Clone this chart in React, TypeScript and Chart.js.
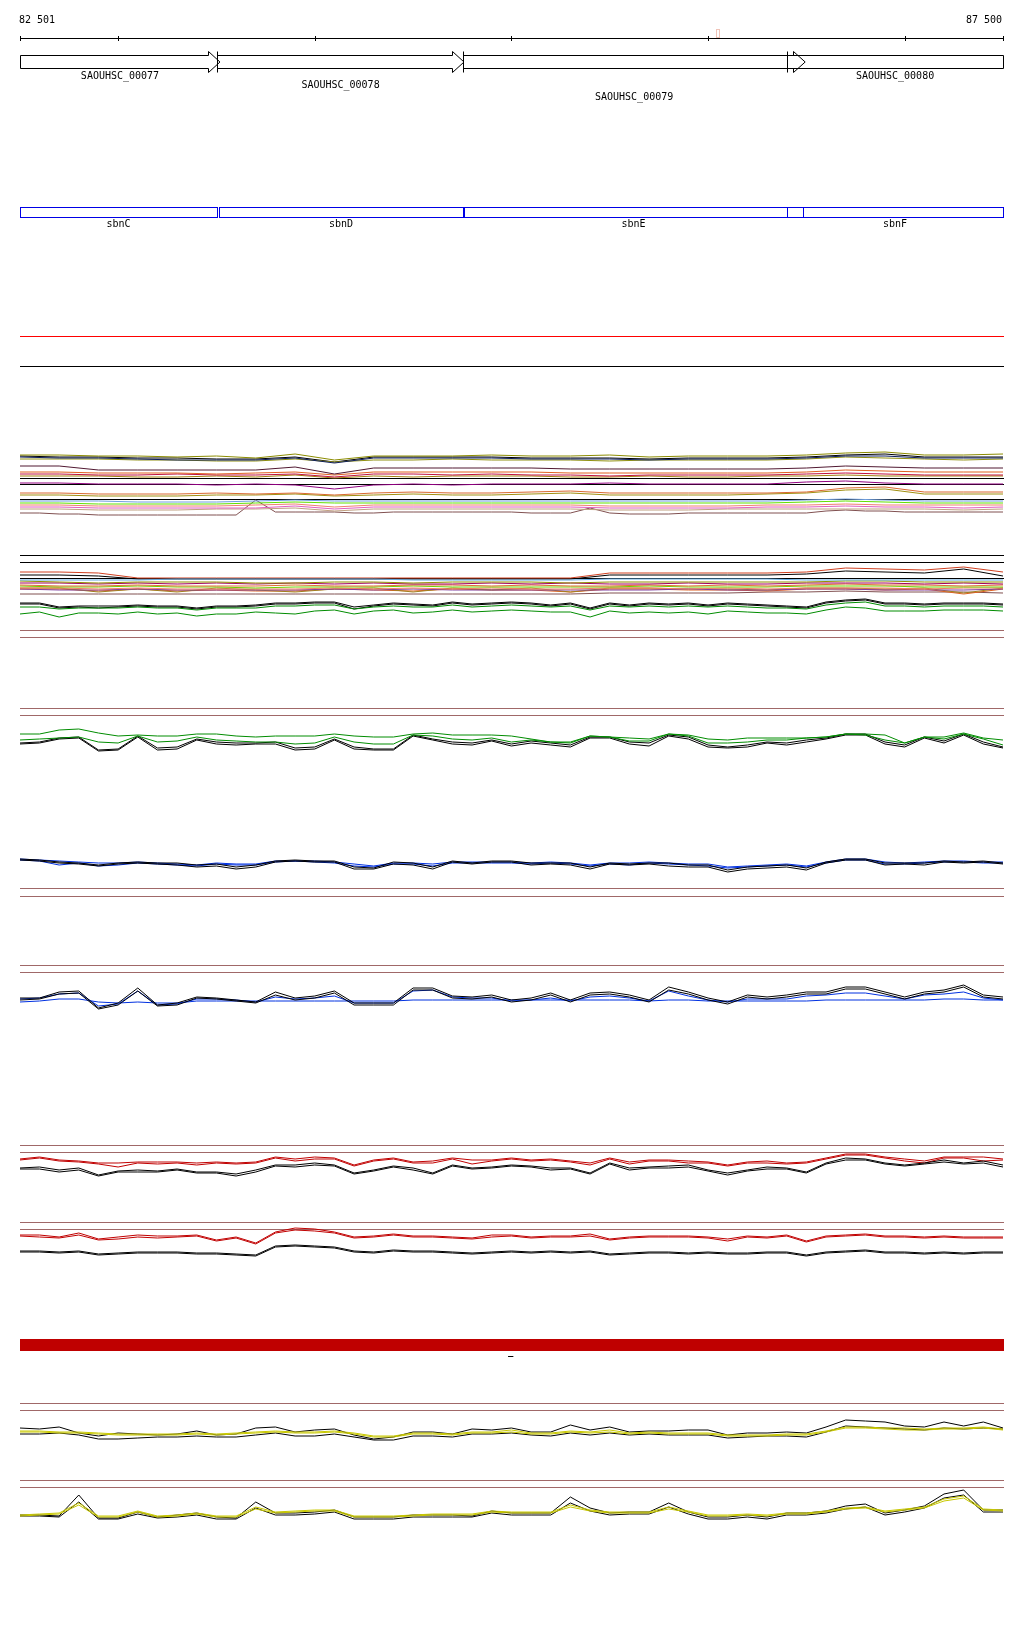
import React, { useEffect, useRef } from "react";
import { Chart, registerables } from "chart.js";

Chart.register(...registerables);

// ---------- genome window ----------
const VIEW_START = 82501;
const VIEW_END = 87500;
const RULER_TICKS = [83000, 84000, 85000, 86000, 87000];
const RULER_LEFT_LABEL = "82 501";
const RULER_RIGHT_LABEL = "87 500";
const RULER_MARKER = 86040;

// ---------- genes (CDS arrows) ----------
const GENE_NAMES = ["SAOUHSC_00077", "SAOUHSC_00078", "SAOUHSC_00079", "SAOUHSC_00080"];
const GENE_STARTS = [82300, 83503, 84754, 86402];
const GENE_ENDS = [83518, 84759, 86494, 88000];
const GENE_LABEL_ROWS = [0, 1, 2, 0];

// ---------- features (blue boxes) ----------
const FEATURE_NAMES = ["sbnC", "sbnD", "sbnE", "sbnF"];
const FEATURE_STARTS = [82300, 83513, 84759, 86402];
const FEATURE_ENDS = [83503, 84754, 86483, 88000];

// ---------- sample positions (bp) ----------
const X_FINE = [
  82500, 82600, 82700, 82800, 82900, 83000, 83100, 83200, 83300, 83400,
  83500, 83600, 83700, 83800, 83900, 84000, 84100, 84200, 84300, 84400,
  84500, 84600, 84700, 84800, 84900, 85000, 85100, 85200, 85300, 85400,
  85500, 85600, 85700, 85800, 85900, 86000, 86100, 86200, 86300, 86400,
  86500, 86600, 86700, 86800, 86900, 87000, 87100, 87200, 87300, 87400,
  87500,
];
const X_COARSE = [
  82500, 82700, 82900, 83100, 83300, 83500, 83700, 83900, 84100, 84300,
  84500, 84700, 84900, 85100, 85300, 85500, 85700, 85900, 86100, 86300,
  86500, 86700, 86900, 87100, 87300, 87500,
];

// ---------- track A (multi-colour bundle) ----------
const A_OLIVE_1 = [65,65,64,64,63,64,62,66,60,64,64,64,65,64,64,65,63,64,64,64,65,67,68,65,65,66];
const A_BLACK = [64,63,63,62,62,61,61,63,58,63,63,63,63,62,62,62,61,62,62,62,63,65,66,63,63,63];
const A_NAVY = [63,62,62,61,60,60,60,62,57,62,62,62,62,61,61,61,60,61,61,61,62,64,64,62,62,62];
const A_OLIVE_2 = [61,61,61,60,60,59,59,61,58,60,60,61,60,60,60,59,60,60,60,60,61,63,62,61,60,61];
const A_MAROON = [54,54,50,50,50,50,50,53,46,52,52,52,52,52,51,51,51,51,51,51,52,54,53,52,52,52];
const A_ORANGE_1 = [48,48,47,47,47,46,47,48,45,48,48,48,48,48,47,47,47,47,47,47,48,50,49,48,48,48];
const A_RED = [46,46,45,45,46,45,45,46,43,46,46,45,46,45,45,44,45,45,45,45,46,47,46,45,45,45];
const A_OLIVE_3 = [44,44,44,43,43,44,43,45,42,44,43,44,44,44,43,43,44,43,43,44,44,45,44,44,44,44];
const A_PURPLE = [37,37,36,36,36,35,36,35,31,35,36,35,36,36,36,37,36,36,36,36,38,39,37,36,36,36];
const A_ORANGE_2 = [27,27,26,26,26,27,26,27,25,27,28,27,27,28,29,27,27,27,27,27,28,32,33,28,28,28];
const A_OLIVE_4 = [25,25,24,24,24,25,25,26,24,25,26,25,25,26,27,25,25,25,25,26,27,30,31,26,26,26];
const A_LIGHTBLUE = [19,19,19,18,18,18,19,20,19,19,19,19,19,19,19,19,19,19,19,19,20,21,20,19,19,19];
const A_LIME = [17,17,16,16,16,16,17,18,17,17,17,17,17,17,17,17,17,17,17,17,18,19,18,17,17,17];
const A_SALMON = [15,15,14,14,14,14,15,16,13,15,15,15,15,15,15,14,14,14,14,15,15,16,15,15,15,15];
const A_PINK = [13,13,12,12,12,12,12,14,11,13,13,13,13,13,13,12,12,12,12,13,13,14,13,13,12,13];
const A_TAN = [11,11,10,10,10,11,11,12,9,11,11,11,11,11,11,10,10,10,11,11,11,11,11,11,10,11];
const A_BROWN = [7,7,6,6,5,5,5,5,5,5,5,5,20,8,8,8,8,7,7,8,8,8,8,8,8,8,7,7,7,12,7,6,6,6,7,7,7,7,7,7,7,9,10,9,9,8,8,8,8,8,8];

// ---------- track B (bundle + black/green) ----------
const B_TOP_RED = [28,28,27,22,22,22,22,22,22,22,22,22,22,22,22,27,27,27,27,27,28,32,31,30,33,28];
const B_TOP_BLACK = [25,25,24,21,21,21,21,21,21,21,21,21,21,21,21,25,25,25,25,25,26,29,28,27,31,24];
const B_BLUE = [20,20,20,20,21,21,21,21,21,21,20,20,20,20,20,21,21,21,21,21,20,20,20,20,20,20];
const B_OLIVE = [19,18,17,18,18,18,17,17,18,18,17,18,18,18,17,18,18,18,18,18,18,19,19,18,18,18];
const B_MAGENTA = [17,17,16,17,16,17,16,17,16,17,16,16,17,16,17,16,16,17,16,16,17,17,17,16,17,16];
const B_ORANGE = [15,14,14,15,14,14,14,15,14,14,15,15,14,15,14,14,15,14,15,14,15,16,15,15,14,15];
const B_LIME = [14,13,13,14,13,13,12,13,13,13,14,13,13,13,13,13,14,13,13,13,14,14,14,13,13,13];
const B_SALMON = [12,12,11,12,11,11,11,11,12,11,12,11,12,11,11,12,12,11,12,11,12,12,12,11,12,12];
const B_PURPLE = [11,10,10,11,10,10,10,10,11,10,11,10,10,10,10,10,10,11,10,10,11,11,10,10,10,11];
const B_OLIVE_DIP = [12,12,8,11,8,12,10,8,11,12,8,12,10,12,8,12,12,11,11,10,12,12,11,12,7,12];
const B_ORANGE_DIP = [11,11,9,11,9,10,9,9,11,10,9,11,10,10,8,11,11,10,10,9,11,11,10,11,6,11];
const B_BROWN = [6,6,6,6,6,6,6,6,6,6,6,6,6,6,6,7,7,7,7,8,8,9,8,8,8,7];
const B_BLACK_1 = [17,17,13,14,14,14,15,14,14,12,14,14,15,17,17,18,18,13,15,17,16,15,18,16,17,18,17,15,17,12,17,15,17,16,17,15,17,16,15,14,13,18,20,21,17,17,16,17,17,17,16];
const B_BLACK_2 = [16,16,12,13,12,13,14,13,13,11,13,13,14,16,16,17,17,11,14,16,15,14,17,15,16,17,16,14,16,11,16,14,16,15,16,14,16,15,14,13,12,17,19,20,16,16,15,16,16,16,15];
const B_GREEN_1 = [13,13,11,12,12,12,13,12,12,10,12,12,12,14,14,15,15,11,13,14,13,13,15,13,14,15,14,13,14,10,14,13,14,13,14,13,14,13,12,12,11,15,17,18,14,14,13,14,14,14,13];
const B_GREEN_2 = [6,8,3,7,7,6,8,6,7,4,6,6,8,7,6,9,10,6,9,10,7,8,10,8,9,10,9,8,8,3,9,7,8,7,8,6,9,8,7,7,6,10,13,12,9,9,9,10,10,10,9];

// ---------- track C (green / black) ----------
const C_BLACK_1 = [7,8,12,13,0,1,14,2,3,11,8,7,7,8,2,3,11,3,1,1,15,11,8,7,10,6,9,7,5,13,13,8,7,15,13,5,3,5,8,7,10,12,16,16,8,5,13,9,16,8,3];
const C_BLACK_2 = [6,7,11,12,-1,0,13,0,1,10,6,5,6,6,0,1,10,1,0,0,14,10,6,5,9,4,7,5,3,12,12,6,4,14,11,3,2,3,7,5,8,11,15,15,6,3,12,7,15,6,2];
const C_GREEN_1 = [16,16,20,21,17,14,15,14,14,16,16,14,13,14,14,14,16,14,13,13,16,17,15,15,15,14,11,8,8,14,13,12,11,16,15,11,10,12,12,12,12,13,16,16,15,7,13,13,17,12,10];
const C_GREEN_2 = [10,11,12,13,8,7,14,8,9,13,10,9,8,8,6,7,13,8,6,6,15,14,11,10,12,8,10,8,7,14,13,9,9,16,14,7,7,8,10,10,12,13,16,15,10,7,13,11,16,11,5];

// ---------- track D (blue / black) ----------
const D_BLACK_1 = [16,15,13,12,10,12,13,12,12,10,11,8,10,14,15,14,14,8,7,13,12,8,14,12,14,14,12,12,12,8,12,11,12,12,10,10,5,8,9,10,7,13,16,16,12,12,12,14,13,14,12];
const D_BLACK_2 = [15,14,12,11,9,11,12,11,10,8,9,6,8,13,14,13,13,6,6,11,10,6,13,11,13,13,10,11,10,6,11,10,11,9,8,8,3,6,7,8,5,12,15,15,10,11,10,13,12,13,11];
const D_BLUE_1 = [16,15,14,13,12,12,13,12,11,10,12,11,11,14,14,14,13,11,9,12,12,11,13,13,13,13,12,13,12,10,12,12,13,12,11,11,8,9,10,11,9,13,16,16,13,12,13,14,14,13,13];
const D_BLUE_2 = [15,14,10,12,9,10,12,11,10,9,11,10,10,13,14,13,12,9,8,11,11,9,12,12,12,12,11,12,11,9,11,10,12,11,10,9,7,8,9,10,8,12,15,15,11,11,12,13,13,12,12];

// ---------- track E (blue / black) ----------
const E_BLACK_1 = [17,17,23,24,7,12,27,10,12,18,17,15,13,23,17,19,24,12,12,12,27,27,19,18,20,15,17,22,15,22,23,20,15,28,23,17,13,20,18,20,23,23,28,28,23,18,23,25,30,20,18];
const E_BLACK_2 = [15,16,21,22,6,10,24,9,10,17,16,14,12,20,15,17,22,10,10,10,25,25,17,16,18,13,15,20,13,20,21,18,13,25,21,15,11,18,16,18,21,21,26,26,21,16,21,23,28,18,16];
const E_BLUE_1 = [16,17,21,22,9,11,24,10,11,16,16,15,13,18,16,17,19,12,12,12,24,25,18,17,17,14,15,17,14,18,19,17,14,24,19,15,13,16,16,16,19,20,22,22,19,16,20,21,23,17,15];
const E_BLUE_2 = [13,14,16,16,13,12,13,12,12,14,14,14,14,14,14,14,14,14,14,14,15,15,15,15,15,15,15,15,15,15,15,15,14,15,15,14,14,14,14,14,14,15,15,15,15,15,15,16,16,15,15];

// ---------- track F (red / black) ----------
const F_RED_1 = [26,28,25,24,22,22,23,23,23,22,23,22,23,28,26,28,27,20,25,27,23,24,27,25,25,27,25,26,24,22,27,23,25,25,24,23,20,23,24,22,23,27,31,31,28,26,24,28,28,28,26];
const F_RED_2 = [25,27,24,23,21,18,22,21,22,20,22,21,22,27,24,26,26,19,24,26,22,22,26,21,24,26,24,25,23,20,26,21,24,24,22,22,19,22,22,21,22,26,30,30,27,24,22,27,27,24,25];
const F_BLACK_1 = [17,18,15,17,10,14,15,14,16,13,13,11,15,20,20,22,20,12,15,19,17,12,20,17,18,20,19,17,17,12,22,17,18,19,20,15,12,15,18,17,13,22,27,26,22,20,22,25,22,24,20];
const F_BLACK_2 = [16,16,13,15,9,13,13,13,15,12,12,9,13,19,18,20,19,11,14,18,15,11,19,16,17,19,18,15,16,11,21,15,17,17,18,14,10,14,16,16,12,21,25,25,21,19,21,23,21,22,18];

// ---------- track G (red / black) ----------
const G_RED_1 = [30,30,28,32,26,28,30,29,29,30,25,28,22,33,37,36,33,28,29,31,29,29,28,27,30,30,28,29,29,31,26,28,29,29,29,28,26,29,28,30,24,29,30,31,29,29,28,29,28,28,28];
const G_RED_2 = [29,28,27,30,25,26,28,27,28,29,24,27,21,32,35,34,32,27,28,30,28,28,27,26,28,29,27,28,28,29,25,27,28,28,28,27,24,28,27,29,23,28,29,30,28,28,27,28,27,27,27];
const G_BLACK_1 = [14,14,13,14,11,12,13,13,13,12,12,11,10,19,20,19,18,14,13,15,14,14,13,12,13,14,13,14,13,14,11,12,13,13,12,13,12,12,13,13,10,13,14,15,13,13,12,13,12,13,13];
const G_BLACK_2 = [13,13,12,13,10,11,12,12,12,11,11,10,9,18,19,18,17,13,12,14,13,13,12,11,12,13,12,13,12,13,10,11,12,12,11,12,11,11,12,12,9,12,13,14,12,12,11,12,11,12,12];

// ---------- track H (yellow / black) ----------
const H_BLACK_1 = [22,21,23,17,14,17,16,15,16,19,15,16,22,23,18,20,21,15,11,13,18,18,16,21,20,22,18,18,25,20,23,18,19,19,20,20,15,17,17,18,17,23,30,29,28,24,23,28,24,28,22];
const H_BLACK_2 = [16,16,17,15,11,11,12,13,13,14,13,13,15,17,14,14,16,13,10,10,14,14,13,16,16,17,15,14,17,15,17,15,16,15,15,15,12,13,14,14,13,18,24,23,22,21,20,22,21,22,21];
const H_YELLOW_1 = [19,19,18,18,17,16,16,16,16,17,16,17,18,19,18,18,19,17,14,14,17,17,16,18,18,20,17,17,19,18,20,17,18,17,17,17,15,15,15,16,16,19,23,23,22,22,21,22,22,23,21];
const H_YELLOW_2 = [18,18,17,17,16,15,15,15,15,16,15,16,17,18,17,17,18,16,13,13,16,16,15,17,17,18,16,16,18,17,18,16,17,16,16,16,14,14,14,15,15,18,22,22,21,20,20,21,21,22,20];

// ---------- track I (yellow / black) ----------
const I_BLACK_1 = [7,7,6,27,4,4,10,5,7,9,5,4,20,9,9,10,12,5,5,5,7,7,7,6,11,9,9,9,25,14,9,10,10,19,10,5,5,7,5,9,9,11,16,18,9,12,16,28,32,12,12];
const I_BLACK_2 = [6,6,5,20,3,3,8,4,5,7,3,3,14,7,7,8,10,3,3,3,5,5,5,5,9,7,7,7,19,11,7,8,8,15,8,3,3,5,3,7,7,9,13,15,7,10,14,24,27,10,10];
const I_YELLOW_1 = [7,8,9,19,6,6,11,6,7,9,6,6,15,10,11,12,12,6,6,6,7,8,8,8,11,10,10,10,17,12,10,10,10,15,11,7,7,8,7,9,9,11,14,15,11,13,15,23,26,13,12];
const I_YELLOW_2 = [6,7,8,17,5,5,10,5,6,8,5,5,13,9,10,11,11,5,5,5,6,7,7,7,10,9,9,9,15,11,9,9,9,13,10,6,6,7,6,8,8,10,13,14,10,12,14,21,24,12,11];

// ---------- layout (page units) ----------
const PAGE_W = 1024;
const PAGE_H = 1640;
const TRACK_BASE: Record<string, number> = {
  A: 520, BT: 600, B: 620, C: 750, D: 875, E: 1015, F: 1185, G: 1265, H: 1450, I: 1522,
};
const RULES: [number, string][] = [
  [336, "#ff0000"], [366, "#000000"],
  [478, "#000000"], [484, "#000000"], [499, "#000000"],
  [555, "#000000"], [562, "#000000"], [578, "#000000"],
  [630, "#a06868"], [637, "#a06868"], [708, "#a06868"], [715, "#a06868"],
  [888, "#a06868"], [896, "#a06868"], [965, "#a06868"], [972, "#a06868"],
  [1145, "#a06868"], [1152, "#a06868"], [1222, "#a06868"], [1229, "#a06868"],
  [1403, "#a06868"], [1410, "#a06868"], [1480, "#a06868"], [1487, "#a06868"],
];

type S = [number[], number[], string, string];
const SERIES: S[] = [
  [A_OLIVE_1, X_COARSE, "A", "#8c8c00"],
  [A_NAVY, X_COARSE, "A", "#102060"],
  [A_OLIVE_2, X_COARSE, "A", "#909010"],
  [A_BLACK, X_COARSE, "A", "#000000"],
  [A_MAROON, X_COARSE, "A", "#501830"],
  [A_ORANGE_1, X_COARSE, "A", "#e06020"],
  [A_RED, X_COARSE, "A", "#c01040"],
  [A_OLIVE_3, X_COARSE, "A", "#a08010"],
  [A_PURPLE, X_COARSE, "A", "#900080"],
  [A_ORANGE_2, X_COARSE, "A", "#d86830"],
  [A_OLIVE_4, X_COARSE, "A", "#a09010"],
  [A_LIGHTBLUE, X_COARSE, "A", "#70a0e0"],
  [A_LIME, X_COARSE, "A", "#60e000"],
  [A_SALMON, X_COARSE, "A", "#f08070"],
  [A_PINK, X_COARSE, "A", "#e060c0"],
  [A_TAN, X_COARSE, "A", "#c0a080"],
  [A_BROWN, X_FINE, "A", "#805050"],
  [B_BLUE, X_COARSE, "BT", "#60a8e0"],
  [B_OLIVE, X_COARSE, "BT", "#909000"],
  [B_MAGENTA, X_COARSE, "BT", "#a00060"],
  [B_ORANGE, X_COARSE, "BT", "#e07030"],
  [B_LIME, X_COARSE, "BT", "#70d000"],
  [B_SALMON, X_COARSE, "BT", "#f08060"],
  [B_PURPLE, X_COARSE, "BT", "#8040a0"],
  [B_OLIVE_DIP, X_COARSE, "BT", "#a08020"],
  [B_ORANGE_DIP, X_COARSE, "BT", "#e06020"],
  [B_BROWN, X_COARSE, "BT", "#805050"],
  [B_TOP_RED, X_COARSE, "BT", "#d04020"],
  [B_TOP_BLACK, X_COARSE, "BT", "#000000"],
  [B_GREEN_1, X_FINE, "B", "#008c00"],
  [B_GREEN_2, X_FINE, "B", "#008c00"],
  [B_BLACK_1, X_FINE, "B", "#000000"],
  [B_BLACK_2, X_FINE, "B", "#000000"],
  [C_GREEN_1, X_FINE, "C", "#008c00"],
  [C_GREEN_2, X_FINE, "C", "#008c00"],
  [C_BLACK_1, X_FINE, "C", "#000000"],
  [C_BLACK_2, X_FINE, "C", "#000000"],
  [D_BLACK_1, X_FINE, "D", "#000000"],
  [D_BLACK_2, X_FINE, "D", "#000000"],
  [D_BLUE_1, X_FINE, "D", "#0030e0"],
  [D_BLUE_2, X_FINE, "D", "#0030e0"],
  [E_BLACK_1, X_FINE, "E", "#000000"],
  [E_BLACK_2, X_FINE, "E", "#000000"],
  [E_BLUE_1, X_FINE, "E", "#0030e0"],
  [E_BLUE_2, X_FINE, "E", "#0030e0"],
  [F_BLACK_1, X_FINE, "F", "#000000"],
  [F_BLACK_2, X_FINE, "F", "#000000"],
  [F_RED_1, X_FINE, "F", "#c00000"],
  [F_RED_2, X_FINE, "F", "#c00000"],
  [G_RED_1, X_FINE, "G", "#c00000"],
  [G_RED_2, X_FINE, "G", "#c00000"],
  [G_BLACK_1, X_FINE, "G", "#000000"],
  [G_BLACK_2, X_FINE, "G", "#000000"],
  [H_YELLOW_1, X_FINE, "H", "#c8c800"],
  [H_YELLOW_2, X_FINE, "H", "#c8c800"],
  [H_BLACK_1, X_FINE, "H", "#000000"],
  [H_BLACK_2, X_FINE, "H", "#000000"],
  [I_YELLOW_1, X_FINE, "I", "#c8c800"],
  [I_YELLOW_2, X_FINE, "I", "#c8c800"],
  [I_BLACK_1, X_FINE, "I", "#000000"],
  [I_BLACK_2, X_FINE, "I", "#000000"],
];

const FONT = "10px 'DejaVu Sans Mono', 'Liberation Mono', monospace";

const decorPlugin = {
  id: "genomeDecor",
  beforeDatasetsDraw(chart: any) {
    const { ctx } = chart;
    const x = chart.scales.x;
    const y = chart.scales.y;
    const L = Math.round(x.getPixelForValue(VIEW_START));
    const R = Math.round(x.getPixelForValue(VIEW_END));
    ctx.save();
    ctx.lineWidth = 1;
    for (const [v, c] of RULES) {
      const py = Math.round(y.getPixelForValue(v)) + 0.5;
      ctx.strokeStyle = c;
      ctx.beginPath();
      ctx.moveTo(L, py);
      ctx.lineTo(R + 1, py);
      ctx.stroke();
    }
    // thick red coverage bar
    ctx.fillStyle = "#bf0000";
    const b0 = y.getPixelForValue(1339);
    const b1 = y.getPixelForValue(1351);
    ctx.fillRect(L, b0, R - L + 1, b1 - b0);
    // small dash
    ctx.strokeStyle = "#000000";
    ctx.beginPath();
    const dy = Math.round(y.getPixelForValue(1356)) + 0.5;
    ctx.moveTo(x.getPixelForValue(84983), dy);
    ctx.lineTo(x.getPixelForValue(85010), dy);
    ctx.stroke();
    ctx.restore();
  },
  afterDatasetsDraw(chart: any) {
    const { ctx } = chart;
    const x = chart.scales.x;
    const y = chart.scales.y;
    const px = (bp: number) => x.getPixelForValue(bp);
    const py = (v: number) => y.getPixelForValue(v);
    const crisp = (v: number) => Math.round(v) + 0.5;
    const L = px(VIEW_START);
    const R = px(VIEW_END);
    ctx.save();
    ctx.lineWidth = 1;
    ctx.strokeStyle = "#000000";
    ctx.fillStyle = "#000000";
    ctx.font = FONT;
    ctx.textBaseline = "middle";

    // ruler
    const ry = crisp(py(38));
    ctx.beginPath();
    ctx.moveTo(crisp(L), ry);
    ctx.lineTo(crisp(R), ry);
    for (const t of [VIEW_START, ...RULER_TICKS, VIEW_END]) {
      const tx = crisp(px(t));
      ctx.moveTo(tx, py(36));
      ctx.lineTo(tx, py(41));
    }
    ctx.stroke();
    ctx.textAlign = "left";
    ctx.fillText(RULER_LEFT_LABEL, L - 1, py(20));
    ctx.textAlign = "right";
    ctx.fillText(RULER_RIGHT_LABEL, R - 1, py(20));
    // marker
    ctx.strokeStyle = "#f0c4b8";
    ctx.strokeRect(crisp(px(RULER_MARKER)), crisp(py(29)), 3, 8);
    ctx.strokeStyle = "#000000";

    // genes
    const top = crisp(py(55));
    const bot = crisp(py(68));
    const aTop = crisp(py(51));
    const aBot = crisp(py(72));
    const mid = (top + bot) / 2;
    const rowY = [76, 85, 97];
    GENE_NAMES.forEach((name, i) => {
      const s = GENE_STARTS[i];
      const e = GENE_ENDS[i];
      const xs = crisp(Math.max(px(s), L));
      const hasArrow = e <= VIEW_END;
      const xe = hasArrow ? px(e) : crisp(R);
      ctx.beginPath();
      if (hasArrow) {
        const hb = crisp(xe - 12);
        ctx.moveTo(xs, top);
        ctx.lineTo(hb, top);
        ctx.lineTo(hb, aTop);
        ctx.lineTo(xe, mid);
        ctx.lineTo(hb, aBot);
        ctx.lineTo(hb, bot);
        ctx.lineTo(xs, bot);
        ctx.closePath();
      } else {
        ctx.rect(xs, top, xe - xs, bot - top);
      }
      if (s >= VIEW_START) {
        ctx.moveTo(xs, aTop);
        ctx.lineTo(xs, aBot);
      }
      ctx.stroke();
      ctx.textAlign = "center";
      const cx = (px(Math.max(s, VIEW_START)) + px(Math.min(e, VIEW_END))) / 2;
      ctx.fillText(name, cx, py(rowY[GENE_LABEL_ROWS[i]]));
    });

    // features
    const fTop = crisp(py(207));
    const fBot = crisp(py(217));
    FEATURE_NAMES.forEach((name, i) => {
      const s = FEATURE_STARTS[i];
      const e = FEATURE_ENDS[i];
      const xs = crisp(Math.max(px(s), L));
      const xe = crisp(Math.min(px(e), R));
      ctx.strokeStyle = "#0000e6";
      ctx.strokeRect(xs, fTop, xe - xs, fBot - fTop);
      ctx.fillStyle = "#000000";
      ctx.textAlign = "center";
      const cx = (px(Math.max(s, VIEW_START)) + px(Math.min(e, VIEW_END))) / 2;
      ctx.fillText(name, cx, py(224.5));
    });
    ctx.restore();
  },
};

export default function App() {
  const ref = useRef<HTMLCanvasElement | null>(null);
  useEffect(() => {
    if (!ref.current) return;
    const datasets = SERIES.map(([vals, xs, track, color]) => ({
      data: vals.map((v, i) => ({ x: xs[i], y: TRACK_BASE[track] - v })),
      borderColor: color,
      borderWidth: 1,
      pointRadius: 0,
      tension: 0,
      fill: false,
    }));
    const chart = new Chart(ref.current, {
      type: "line",
      data: { datasets },
      options: {
        animation: false,
        responsive: false,
        devicePixelRatio: 1,
        events: [],
        layout: { padding: { left: 20, right: 21, top: 0, bottom: 0 }, autoPadding: false },
        plugins: { legend: { display: false }, tooltip: { enabled: false } },
        scales: {
          x: { type: "linear", min: VIEW_START, max: VIEW_END, display: false },
          y: { type: "linear", min: 0, max: PAGE_H, reverse: true, display: false },
        },
      },
      plugins: [decorPlugin],
    } as any);
    return () => chart.destroy();
  }, []);
  return (
    <div style={{ position: "absolute", left: 0, top: 0, width: PAGE_W, height: PAGE_H, background: "#fff" }}>
      <canvas ref={ref} width={PAGE_W} height={PAGE_H} style={{ display: "block", width: PAGE_W, height: PAGE_H }} />
    </div>
  );
}
